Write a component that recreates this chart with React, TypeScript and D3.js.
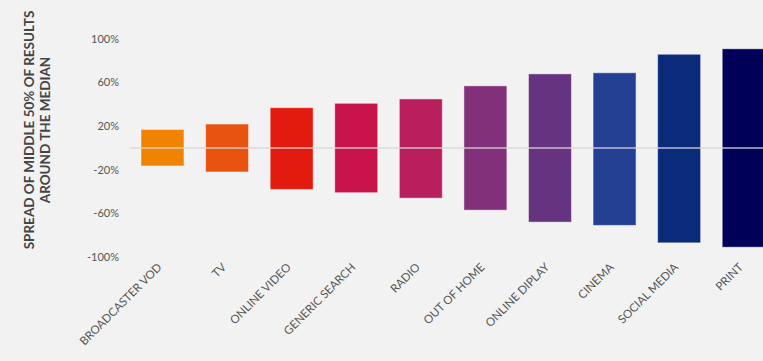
import React from "react";
import * as d3 from "d3";

const categories = [
  "BROADCASTER VOD",
  "TV",
  "ONLINE VIDEO",
  "GENERIC SEARCH",
  "RADIO",
  "OUT OF HOME",
  "ONLINE DIPLAY",
  "CINEMA",
  "SOCIAL MEDIA",
  "PRINT",
];
const highValues = [17, 22, 37, 41, 45, 57, 68, 69, 86, 91];
const lowValues = [-16.5, -22, -38, -41, -46, -57, -68, -71, -87, -91];
const barColors = [
  "#f08300",
  "#e8530f",
  "#e31b0e",
  "#c8144a",
  "#b81f5c",
  "#82307a",
  "#663380",
  "#244092",
  "#0a2b7a",
  "#000058",
];
const yTicks = [100, 60, 20, -20, -60, -100];

const W = 763;
const H = 361;

export default function App() {
  const x = d3
    .scaleBand<string>()
    .domain(categories)
    .range([130.2, 776])
    .paddingInner(0.335)
    .paddingOuter(0.1675);
  const y = d3.scaleLinear().domain([-100, 100]).range([257, 39]);
  const font = "Lato, 'Open Sans', sans-serif";

  return (
    <svg
      width={W}
      height={H}
      style={{ position: "absolute", left: 0, top: 0, background: "#f2f2f2" }}
    >
      <rect x={0} y={0} width={W} height={H} fill="#f2f2f2" />
      {categories.map((c, i) => (
        <rect
          key={c}
          x={x(c)}
          y={y(highValues[i])}
          width={x.bandwidth()}
          height={y(lowValues[i]) - y(highValues[i])}
          fill={barColors[i]}
          stroke="rgba(255,255,255,0.45)"
          strokeWidth={1}
        />
      ))}
      <line
        x1={130}
        x2={W}
        y1={y(0)}
        y2={y(0)}
        stroke="rgba(215,215,215,0.85)"
        strokeWidth={1.5}
      />
      {yTicks.map((t) => (
        <text
          key={t}
          x={119}
          y={y(t)}
          dy="0.35em"
          textAnchor="end"
          fontFamily={font}
          fontSize={11}
          fill="#555"
        >
          {t}%
        </text>
      ))}
      {categories.map((c) => {
        const cx = (x(c) as number) + x.bandwidth() / 2;
        const cy = 268;
        return (
          <text
            key={c}
            transform={`translate(${cx},${cy}) rotate(-45)`}
            textAnchor="end"
            fontFamily={font}
            fontSize={11.5}
            fill="#555"
          >
            {c}
          </text>
        );
      })}
      <text
        transform="translate(34,130) rotate(-90)"
        textAnchor="middle"
        fontFamily={font}
        fontWeight="bold"
        fontSize={13.5}
        fill="#444"
      >
        SPREAD OF MIDDLE 50% OF RESULTS
      </text>
      <text
        transform="translate(50,130) rotate(-90)"
        textAnchor="middle"
        fontFamily={font}
        fontWeight="bold"
        fontSize={13.5}
        fill="#444"
      >
        AROUND THE MEDIAN
      </text>
    </svg>
  );
}
